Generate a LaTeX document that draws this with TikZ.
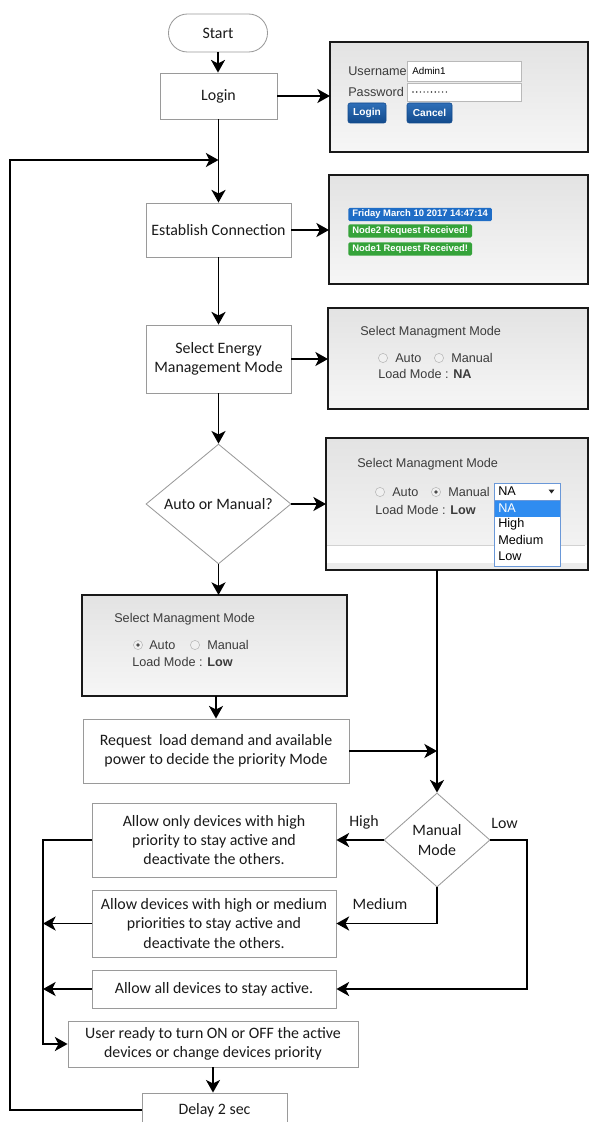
\documentclass[tikz,border=0pt]{standalone}
\usepackage{fontspec}
\setmainfont{Carlito}
\newfontfamily\uifont{Liberation Sans}
\usetikzlibrary{shapes.geometric,arrows.meta}
\definecolor{flowtext}{HTML}{1A1A1A}
\definecolor{uitext}{HTML}{3C3C3C}
\definecolor{boxgray}{HTML}{9A9A9A}
\definecolor{btntop}{HTML}{2E6FB8}
\definecolor{btnbot}{HTML}{124A8C}
\definecolor{badgeblue}{HTML}{1F6DC6}
\definecolor{badgegreen}{HTML}{35A33A}
\definecolor{selblue}{HTML}{2F8CF0}
\definecolor{listedge}{HTML}{6A98D8}
\begin{document}
\begin{tikzpicture}[x=0.025cm, y=-0.025cm,
    box/.style={draw=boxgray, line width=0.6pt, fill=white, align=center, inner sep=1pt,
      text=flowtext, font=\fontsize{11.3}{13.6}\selectfont},
    decision/.style={box, diamond, inner sep=0pt},
    screen/.style={draw=black!90, line width=1.5pt, outer sep=0pt, inner sep=0pt,
      top color=gray!22, bottom color=gray!7},
    flow/.style={line width=1.3pt, -{Stealth[length=9pt, width=10pt, inset=2.5pt]}},
    lbl/.style={inner sep=0pt, text=flowtext, font=\fontsize{11.3}{13.6}\selectfont},
    ui/.style={anchor=west, inner sep=0pt, text=uitext, font=\uifont\fontsize{9}{11}\selectfont},
    field/.style={draw=gray!55, fill=white, line width=0.5pt},
    button/.style={rounded corners=1.5pt, draw=btnbot, top color=btntop, bottom color=btnbot,
      text=white, inner sep=0pt, minimum height=5mm, font=\uifont\bfseries\fontsize{7.2}{9}\selectfont},
    badge/.style={anchor=west, rounded corners=1pt, inner xsep=1mm, inner ysep=0pt,
      minimum height=3.3mm, text=white, font=\uifont\bfseries\fontsize{6.7}{8}\selectfont},
    radio/.style={circle, draw=gray!55, fill=gray!12, inner sep=0pt, minimum size=2.3mm},
    radioon/.style={radio, path picture={\fill[black!70] (path picture bounding box.center) circle (1.8);}}]
  \path[use as bounding box] (0,0) rectangle (590,1122);
  \clip (0,0) rectangle (590,1122);

  \node[box, rounded corners=4.75mm, minimum width=24.75mm, minimum height=9.5mm] (start) at (218,33) {Start};
  \node[box, minimum width=29.25mm, minimum height=11.5mm] (login) at (218.5,96) {Login};
  \node[box, minimum width=36.25mm, minimum height=13.5mm] (estab) at (218.5,230) {Establish Connection};
  \node[box, minimum width=36.25mm, minimum height=17mm] (energy) at (218.5,359) {Select Energy\\Management Mode};
  \node[decision, minimum width=36.25mm, minimum height=27mm] (automan) at (218.5,504) {Auto or Manual?};
  \node[box, minimum width=66.5mm, minimum height=16mm] (request) at (216,751) {Request\ \ load demand and available\\power to decide the priority Mode};
  \node[decision, minimum width=26.5mm, minimum height=23.5mm] (manual) at (437,840) {Manual\\Mode};
  \node[box, minimum width=61mm, minimum height=18.5mm] (allowhigh) at (214,840) {Allow only devices with high\\priority to stay active and\\deactivate the others.};
  \node[box, minimum width=61mm, minimum height=16.75mm] (allowmed) at (214,923.5) {Allow devices with high or medium\\priorities to stay active and\\deactivate the others.};
  \node[box, minimum width=61mm, minimum height=9.5mm] (allowall) at (214,989) {Allow all devices to stay active.};
  \node[box, minimum width=72.5mm, minimum height=11.5mm] (userready) at (213,1044) {User ready to turn ON or OFF the active\\devices or change devices priority};
  \node[box, minimum width=36.25mm, minimum height=8.5mm] (delay) at (214.5,1110) {Delay 2 sec};

  \node[screen, minimum width=64.5mm, minimum height=27.5mm] (scrlogin) at (459,97) {};
  \node[ui] (lguser) at (348,71) {Username};
  \node[ui] (lgpass) at (348,92) {Password};
  \draw[field] (407,61) rectangle (521,81);
  \draw[field] (407,83) rectangle (521,101);
  \node[ui, text=black, font=\uifont\fontsize{7}{8}\selectfont] (lgname) at (412,71) {Admin1};
  \foreach \i in {0,...,9}
    \fill[black!80] (413+3.7*\i,92) circle (0.8);
  \node[button, minimum width=9.5mm] (lgok) at (367,113) {Login};
  \node[button, minimum width=11.25mm] (lgcancel) at (429.5,113) {Cancel};

  \node[screen, minimum width=64.75mm, minimum height=27.25mm] (scrconn) at (458.5,229.5) {};
  \node[badge, fill=badgeblue] (cntime) at (348,214.5) {Friday March 10 2017 14:47:14};
  \node[badge, fill=badgegreen] (cnnode2) at (348,231) {Node2 Request Received!};
  \node[badge, fill=badgegreen] (cnnode1) at (348,249) {Node1 Request Received!};

  \node[screen, minimum width=65mm, minimum height=25.25mm] (scrmode) at (458,358.5) {};
  \node[ui] (mdtitle) at (360,332) {Select Managment Mode};
  \node[radio] (mdauto) at (383,358) {};
  \node[ui] (mdautotxt) at (395,358) {Auto};
  \node[radio] (mdman) at (439,358) {};
  \node[ui] (mdmantxt) at (451,358) {Manual};
  \node[ui] (mdload) at (378,374) {Load Mode : \textbf{NA}};

  \node[screen, minimum width=65.5mm, minimum height=33mm] (scrmanual) at (457,504) {};
  \fill[white] (327,545) rectangle (587,563);
  \fill[gray!15] (327,563) rectangle (587,569);
  \draw[gray!35, line width=0.5pt] (327,545) -- (585,545);
  \draw[black!90, line width=1.5pt] (scrmanual.south west) rectangle (scrmanual.north east);
  \node[ui] (mntitle) at (357,464) {Select Managment Mode};
  \node[radio] (mnauto) at (380,492) {};
  \node[ui] (mnautotxt) at (392,492) {Auto};
  \node[radioon] (mnman) at (436,492) {};
  \node[ui] (mnmantxt) at (448,492) {Manual};
  \node[ui] (mnload) at (375,510) {Load Mode : \textbf{Low}};
  \draw[draw=listedge, fill=white, line width=0.6pt] (494,483) rectangle (560,500);
  \node[ui, text=black] (mnpick) at (498,491.5) {NA};
  \fill[black!85] (548.5,489.5) -- (554.5,489.5) -- (551.5,493.5) -- cycle;
  \draw[draw=listedge, fill=white, line width=0.6pt] (494,500) rectangle (560,566);
  \fill[selblue] (494.5,501) rectangle (559.5,517);
  \node[ui, text=white] (mnna) at (498,508.5) {NA};
  \node[ui, text=black] (mnhigh) at (498,524) {High};
  \node[ui, text=black] (mnmed) at (498,540) {Medium};
  \node[ui, text=black] (mnlow) at (498,556) {Low};

  \node[screen, minimum width=66.25mm, minimum height=25.25mm] (scrauto) at (214.5,645.5) {};
  \node[ui] (attitle) at (114,619) {Select Managment Mode};
  \node[radioon] (atauto) at (138,645) {};
  \node[ui] (atautotxt) at (149,645) {Auto};
  \node[radio] (atman) at (195,645) {};
  \node[ui] (atmantxt) at (207,645) {Manual};
  \node[ui] (atload) at (132,662) {Load Mode : \textbf{Low}};

  \node[lbl] (lblhigh) at (364,822) {High};
  \node[lbl] (lblmed) at (380,904) {Medium};
  \node[lbl] (lbllow) at (504.5,823) {Low};

  \coordinate (looptop) at (10,160);
  \coordinate (lowturn) at (527,840);
  \coordinate (joinx) at (43,840);

  \draw[flow] (start.south) -- (start.south |- login.north);
  \draw[flow] (login) -- (login -| scrlogin.west);
  \draw[flow] (login) -- (estab);
  \draw[flow] (estab) -- (estab -| scrconn.west);
  \draw[flow] (estab) -- (energy);
  \draw[flow] (energy) -- (energy -| scrmode.west);
  \draw[flow] (energy) -- (automan);
  \draw[flow] (automan.east) -- (automan.east -| scrmanual.west);
  \draw[flow] (automan.south) -- (automan.south |- scrauto.north);
  \draw[flow] (request.north |- scrauto.south) -- (request.north);
  \draw[flow] (request.east) -- (request.east -| manual.north);
  \draw[flow] (scrmanual.south -| manual.north) -- (manual.north);
  \draw[flow] (manual) -- (allowhigh);
  \draw[flow] (manual.south) |- (allowmed.east);
  \draw[flow] (manual.east) -- (lowturn) |- (allowall.east);
  \draw[flow] (allowhigh.west) -- (joinx) |- (userready.west);
  \draw[flow] (allowmed.west) -- (allowmed.west -| joinx);
  \draw[flow] (allowall.west) -- (allowall.west -| joinx);
  \draw[flow] (userready.south) -- (userready.south |- delay.north);
  \draw[flow] (delay.west) -| (looptop) -- (looptop -| login.south);
\end{tikzpicture}
\end{document}
